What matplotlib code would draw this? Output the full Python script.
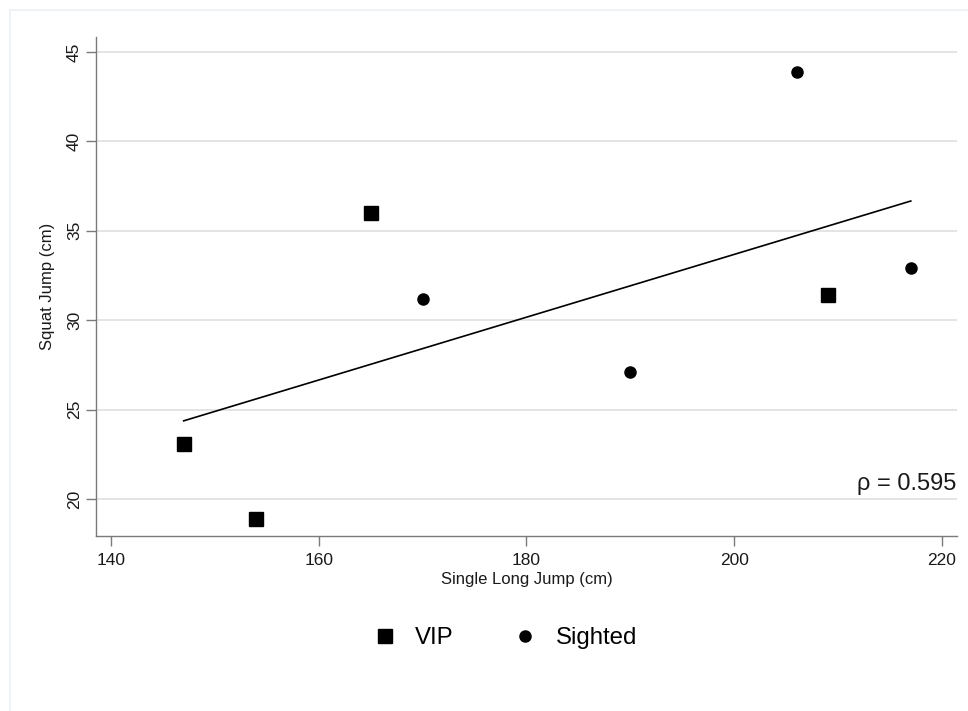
import numpy as np
import matplotlib
matplotlib.use("Agg")
import matplotlib.pyplot as plt
from matplotlib.lines import Line2D

plt.rcParams['font.family'] = ['Liberation Sans', 'DejaVu Sans']

# data
vip_x = [147, 154, 165, 209]
vip_y = [23.1, 18.9, 36.0, 31.4]
sighted_x = [170, 190, 206, 217]
sighted_y = [31.2, 27.1, 43.9, 32.9]
rho_text = r'ρ = 0.595'
x_ticks = [140, 160, 180, 200, 220]
y_ticks = [20, 25, 30, 35, 40, 45]

all_x = np.array(vip_x + sighted_x, dtype=float)
all_y = np.array(vip_y + sighted_y, dtype=float)
slope, intercept = np.polyfit(all_x, all_y, 1)
fit_x = np.array([all_x.min(), all_x.max()])
fit_y = slope * fit_x + intercept

fig = plt.figure(figsize=(9.68, 7.11), dpi=100)
ax = fig.add_axes([96 / 968, 1 - 536 / 711, (957 - 96) / 968, (536 - 37) / 711])

ax.set_xlim(138.56, 221.45)
ax.set_ylim(17.93, 45.84)
ax.set_xticks(x_ticks)
ax.set_yticks(y_ticks)

ax.yaxis.grid(True, color='#dcdcdc', linewidth=1.1)
ax.set_axisbelow(True)

for side in ['top', 'right']:
    ax.spines[side].set_visible(False)
for side in ['left', 'bottom']:
    ax.spines[side].set_color('#7a7a7a')
    ax.spines[side].set_linewidth(1.0)

ax.tick_params(axis='both', colors='#7a7a7a', length=7, width=1.0, labelsize=12.5,
               labelcolor='#1a1a1a')
ax.tick_params(axis='x', pad=5)
ax.tick_params(axis='y', pad=3)
for lbl in ax.get_yticklabels():
    lbl.set_rotation(90)
    lbl.set_va('center')

ax.plot(fit_x, fit_y, color='black', linewidth=1.2, zorder=2)
ax.plot(vip_x, vip_y, linestyle='none', marker='s', markersize=9.5,
        color='black', label='VIP', zorder=3)
ax.plot(sighted_x, sighted_y, linestyle='none', marker='o', markersize=8,
        color='black', label='Sighted', zorder=3)

ax.set_xlabel('Single Long Jump (cm)', fontsize=12, color='#1a1a1a', labelpad=3)
ax.set_ylabel('Squat Jump (cm)', fontsize=12, color='#1a1a1a', labelpad=9)

ax.annotate(rho_text, xy=(0.999, 20.5), xycoords=('axes fraction', 'data'),
            ha='right', va='baseline', fontsize=17, color='#1a1a1a')

handles, labels = ax.get_legend_handles_labels()
fig.legend(handles, labels, loc='center', bbox_to_anchor=(0.5215, 0.102), ncol=2,
           frameon=False, fontsize=17.3, handlelength=1.0, handletextpad=0.75,
           columnspacing=2.5)

# faint outer frame lines
fig.add_artist(Line2D([10 / 968, 1], [1 - 10 / 711, 1 - 10 / 711],
                      transform=fig.transFigure, color='#edf1f4', linewidth=1.2))
fig.add_artist(Line2D([10 / 968, 10 / 968], [0, 1 - 10 / 711],
                      transform=fig.transFigure, color='#edf1f4', linewidth=1.2))

fig.savefig('out.png', dpi=100)
